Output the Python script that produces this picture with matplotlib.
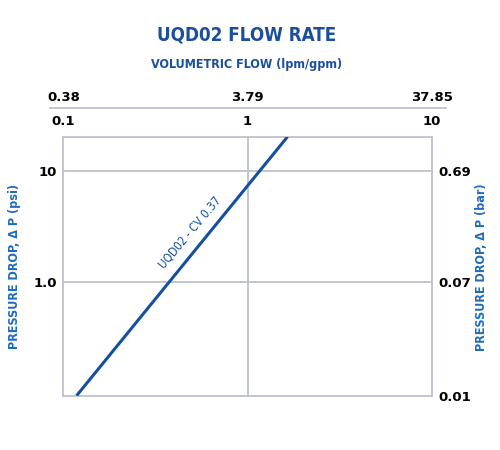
import matplotlib
matplotlib.use("Agg")
import matplotlib.pyplot as plt
from matplotlib.lines import Line2D
from matplotlib.ticker import NullLocator

# values
flow_gpm = [0.118, 1.65]          # end points of the Cv line
dp_psi = [0.094, 20.2]
gpm_ticks = [0.1, 1, 10]
gpm_labels = ["0.1", "1", "10"]
lpm_labels = ["0.38", "3.79", "37.85"]
psi_ticks = [0.094, 1, 10]
psi_labels = ["", "1.0", "10"]
bar_labels = ["0.01", "0.07", "0.69"]

TITLE_BLUE = "#1b4f9e"
LABEL_BLUE = "#1f6cbc"
LINE_BLUE = "#1550a0"
GRID = "#bcc2cb"
NARROW = dict(family="DejaVu Sans", stretch="condensed")
tick_kw = dict(family="DejaVu Sans", fontweight="semibold", fontsize=9.5)

fig = plt.figure(figsize=(5, 4.5), dpi=100, facecolor="white")
ax = fig.add_axes([0.1267, 0.1207, 0.7367, 0.5756])
ax.set_xscale("log")
ax.set_yscale("log")
ax.set_xlim(0.1, 10)
ax.set_ylim(0.094, 20.2)

ax.plot(flow_gpm, dp_psi, color=LINE_BLUE, lw=2.2, solid_capstyle="butt", zorder=3)
ax.text(0.49, 2.75, "UQD02 - CV 0.37", rotation=50, rotation_mode="anchor",
        ha="center", va="center", color=LINE_BLUE, fontsize=8.5, **NARROW)

for s in ax.spines.values():
    s.set_color(GRID)
    s.set_linewidth(1.3)
ax.axvline(1, color=GRID, lw=1.3, zorder=1)
for yv in [1, 10]:
    ax.axhline(yv, color=GRID, lw=1.3, zorder=1)

# lpm labels on an extra top axis
ax_lpm = ax.twiny()
ax_lpm.spines["top"].set_position(("outward", 20.4))
for s in ax_lpm.spines.values():
    s.set_visible(False)
ax_lpm.set_xscale("log")
ax_lpm.set_xlim(ax.get_xlim())
ax_lpm.set_xticks(gpm_ticks)
ax_lpm.set_xticklabels(lpm_labels, **tick_kw)
ax_lpm.xaxis.set_minor_locator(NullLocator())
ax_lpm.tick_params(axis="x", length=0, pad=3)
fig.add_artist(Line2D([50 / 500, 446 / 500], [1 - 108.3 / 450] * 2,
                      color=GRID, lw=1.3, transform=fig.transFigure))

# bar labels on the right
ax_bar = ax.twinx()
ax_bar.set_yscale("log")
ax_bar.set_ylim(ax.get_ylim())
ax_bar.set_yticks(psi_ticks)
ax_bar.set_yticklabels(bar_labels, **tick_kw)
ax_bar.yaxis.set_minor_locator(NullLocator())
for s in ax_bar.spines.values():
    s.set_visible(False)
ax_bar.tick_params(axis="y", length=0, pad=4.5)

# left psi ticks
ax.set_yticks(psi_ticks)
ax.set_yticklabels(psi_labels, **tick_kw)
ax.yaxis.set_minor_locator(NullLocator())
ax.tick_params(axis="y", length=0, pad=4.5)

# gpm ticks drawn above the plot
ax.xaxis.set_ticks_position("top")
ax.set_xticks(gpm_ticks)
ax.set_xticklabels(gpm_labels, **tick_kw)
ax.xaxis.set_minor_locator(NullLocator())
ax.tick_params(axis="x", length=0, bottom=False, labelbottom=False,
               top=False, labeltop=True, pad=6.5)

fig.text(0.03, 0.409, "PRESSURE DROP, \u0394 P (psi)", rotation=90,
         ha="center", va="center", color=LABEL_BLUE, fontsize=9,
         weight="bold", **NARROW)
fig.text(0.963, 0.407, "PRESSURE DROP, \u0394 P (bar)", rotation=90,
         ha="center", va="center", color=LABEL_BLUE, fontsize=9,
         weight="bold", **NARROW)

fig.text(0.493, 1 - 35 / 450, "UQD02 FLOW RATE", ha="center", va="center",
         color=TITLE_BLUE, fontsize=13.5, weight="bold", **NARROW)
fig.text(0.494, 1 - 65 / 450, "VOLUMETRIC FLOW (lpm/gpm)", ha="center",
         va="center", color=TITLE_BLUE, fontsize=9, weight="bold", **NARROW)

fig.savefig("out.png", dpi=100, facecolor="white")
